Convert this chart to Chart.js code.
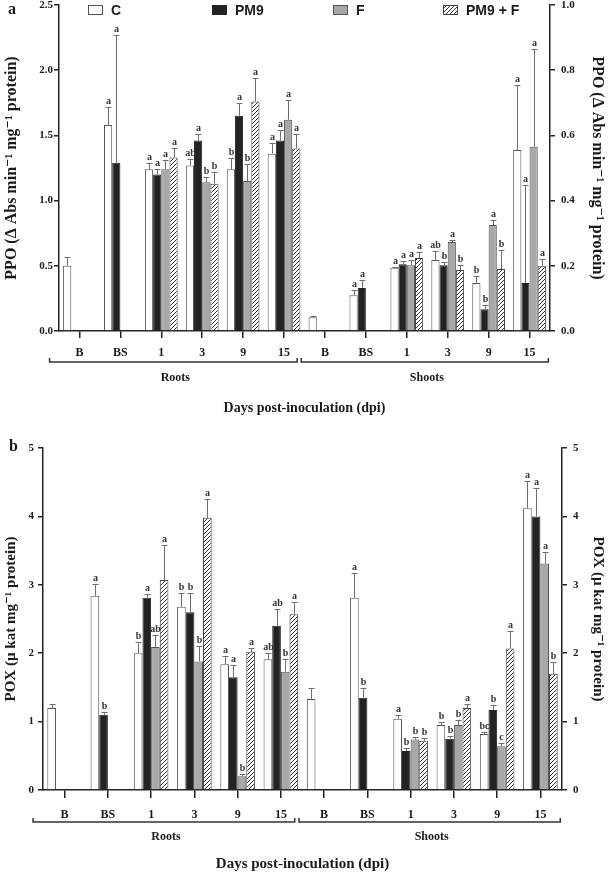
<!DOCTYPE html>
<html>
<head>
<meta charset="utf-8">
<title>PPO and POX activity</title>
<script src="https://cdn.jsdelivr.net/npm/chart.js@4.4.0/dist/chart.umd.min.js"></script>
<style>
  html, body { margin: 0; padding: 0; background: #fff; }
  #wrapA { position: absolute; left: 0; top: 0; width: 609px; height: 420px; }
  #wrapB { position: absolute; left: 0; top: 430px; width: 609px; height: 443px; }
</style>
</head>
<body>
<div id="wrapA"><canvas id="ppoChart"></canvas></div>
<div id="wrapB"><canvas id="poxChart"></canvas></div>
<script>
// categories (same for roots and shoots) and treatments
var categories = ['B', 'BS', '1', '3', '9', '15'];
var treatments = ['C', 'PM9', 'F', 'PM9 + F'];

// panel a - PPO, roots (left axis), rows = C, PM9, F, PM9 + F
var ppoRoots = [
    [0.50, 1.58, 1.24, 1.27, 1.24, 1.36],
    [null, 1.29, 1.20, 1.46, 1.65, 1.46],
    [null, null, 1.24, 1.14, 1.15, 1.62],
    [null, null, 1.33, 1.13, 1.76, 1.40]
];
var ppoRootsErr = [
    [0.07, 0.14, 0.05, 0.05, 0.09, 0.08],
    [null, 0.98, 0.04, 0.05, 0.10, 0.08],
    [null, null, 0.07, 0.04, 0.13, 0.15],
    [null, null, 0.07, 0.09, 0.18, 0.11]
];
var ppoRootsLetters = [
    ['', 'a', 'a', 'ab', 'b', 'a'],
    ['', 'a', 'a', 'a', 'a', 'a'],
    ['', '', 'a', 'b', 'b', 'a'],
    ['', '', 'a', 'b', 'a', 'a']
];

// panel a - PPO, shoots (right axis)
var ppoShoots = [
    [0.042, 0.110, 0.194, 0.218, 0.147, 0.555],
    [null, 0.132, 0.205, 0.202, 0.067, 0.147],
    [null, null, 0.202, 0.273, 0.325, 0.565],
    [null, null, 0.224, 0.187, 0.190, 0.200]
];
var ppoShootsErr = [
    [0.005, 0.016, 0.003, 0.027, 0.021, 0.200],
    [null, 0.025, 0.010, 0.009, 0.013, 0.300],
    [null, null, 0.016, 0.006, 0.015, 0.300],
    [null, null, 0.018, 0.016, 0.060, 0.022]
];
var ppoShootsLetters = [
    ['', 'a', 'a', 'ab', 'b', 'a'],
    ['', 'a', 'a', 'b', 'b', 'a'],
    ['', '', 'a', 'a', 'a', 'a'],
    ['', '', 'a', 'b', 'b', 'a']
];

// panel b - POX, roots
var poxRoots = [
    [1.20, 2.84, 2.00, 2.68, 1.84, 1.91],
    [null, 1.10, 2.81, 2.60, 1.65, 2.40],
    [null, null, 2.09, 1.88, 0.20, 1.73],
    [null, null, 3.07, 3.98, 2.02, 2.57]
];
var poxRootsErr = [
    [0.06, 0.17, 0.16, 0.20, 0.12, 0.10],
    [null, 0.04, 0.05, 0.28, 0.18, 0.25],
    [null, null, 0.18, 0.23, 0.03, 0.18],
    [null, null, 0.51, 0.27, 0.05, 0.18]
];
var poxRootsLetters = [
    ['', 'a', 'b', 'b', 'a', 'ab'],
    ['', 'b', 'a', 'b', 'a', 'ab'],
    ['', '', 'ab', 'b', 'b', 'b'],
    ['', '', 'a', 'a', 'a', 'a']
];

// panel b - POX, shoots
var poxShoots = [
    [1.33, 2.81, 1.04, 0.95, 0.82, 4.12],
    [null, 1.35, 0.57, 0.75, 1.17, 4.00],
    [null, null, 0.74, 0.95, 0.64, 3.31],
    [null, null, 0.72, 1.20, 2.07, 1.70]
];
var poxShootsErr = [
    [0.16, 0.36, 0.06, 0.04, 0.03, 0.40],
    [null, 0.14, 0.04, 0.04, 0.08, 0.42],
    [null, null, 0.04, 0.07, 0.04, 0.17],
    [null, null, 0.04, 0.06, 0.25, 0.17]
];
var poxShootsLetters = [
    ['', 'a', 'a', 'b', 'bc', 'a'],
    ['', 'b', 'b', 'b', 'b', 'a'],
    ['', '', 'b', 'b', 'c', 'a'],
    ['', '', 'b', 'a', 'a', 'b']
];

var SERIF = '"Liberation Serif", "DejaVu Serif", serif';
var SANS = '"Liberation Sans", Arial, sans-serif';
var INK = '#1a1a1a';

// diagonal hatch for PM9 + F
function makeHatch() {
    var c = document.createElement('canvas');
    c.width = 4; c.height = 4;
    var g = c.getContext('2d');
    g.fillStyle = '#ffffff';
    g.fillRect(0, 0, 4, 4);
    g.strokeStyle = '#333333';
    g.lineWidth = 1;
    g.beginPath();
    g.moveTo(0, 4); g.lineTo(4, 0);
    g.moveTo(-1, 1); g.lineTo(1, -1);
    g.moveTo(3, 5); g.lineTo(5, 3);
    g.stroke();
    return g.createPattern(c, 'repeat');
}
var hatch = makeHatch();
var fills = ['#ffffff', '#232323', '#a8a8a8', hatch];
var borders = ['#555555', '#232323', '#555555', '#444444'];

// error bars + significance letters
var errorBarPlugin = {
    id: 'errorBars',
    afterDatasetsDraw: function (chart) {
        var ctx = chart.ctx;
        ctx.save();
        ctx.font = 'bold 10px ' + SERIF;
        ctx.textAlign = 'center';
        ctx.textBaseline = 'bottom';
        chart.data.datasets.forEach(function (ds, i) {
            var meta = chart.getDatasetMeta(i);
            var scale = chart.scales[ds.yAxisID];
            meta.data.forEach(function (bar, j) {
                var v = ds.data[j];
                if (v === null || v === undefined) return;
                var x = Math.round(bar.x) + 0.5;
                var top = Math.round(scale.getPixelForValue(v + (ds.errors[j] || 0))) + 0.5;
                ctx.strokeStyle = '#6e6e6e';
                ctx.lineWidth = 1;
                ctx.beginPath();
                ctx.moveTo(x, bar.y);
                ctx.lineTo(x, top);
                ctx.moveTo(x - 3, top);
                ctx.lineTo(x + 3, top);
                ctx.stroke();
                if (ds.letters[j]) {
                    ctx.fillStyle = '#333333';
                    ctx.fillText(ds.letters[j], x, top - 1);
                }
            });
        });
        ctx.restore();
    }
};

// panel letter, legend and Roots / Shoots brackets
var decorPlugin = {
    id: 'decor',
    afterDraw: function (chart, args, opts) {
        var ctx = chart.ctx;
        var xs = chart.scales.x;
        ctx.save();

        ctx.fillStyle = INK;
        ctx.font = 'bold 16px ' + SERIF;
        ctx.textAlign = 'left';
        ctx.textBaseline = 'middle';
        ctx.fillText(opts.letter, opts.letterX, opts.letterY);

        if (opts.legend) {
            var boxX = [88, 212, 333, 443];
            ctx.font = 'bold 14px ' + SANS;
            treatments.forEach(function (name, t) {
                ctx.fillStyle = fills[t];
                ctx.fillRect(boxX[t], 5, 15, 10);
                ctx.strokeStyle = borders[t];
                ctx.lineWidth = 1;
                ctx.strokeRect(boxX[t] + 0.5, 5.5, 14, 9);
                ctx.fillStyle = INK;
                ctx.fillText(name, boxX[t] + 23, 11);
            });
        }

        var w = xs.getPixelForValue(1) - xs.getPixelForValue(0);
        var spans = [
            ['Roots', xs.getPixelForValue(0) - 0.73 * w, xs.getPixelForValue(5) + 0.32 * w],
            ['Shoots', xs.getPixelForValue(6) - 0.58 * w, xs.getPixelForValue(11) + 0.46 * w]
        ];
        ctx.strokeStyle = '#333333';
        ctx.lineWidth = 1.5;
        ctx.font = 'bold 12px ' + SERIF;
        ctx.textAlign = 'center';
        spans.forEach(function (s) {
            ctx.beginPath();
            ctx.moveTo(s[1], opts.bracketY - 4);
            ctx.lineTo(s[1], opts.bracketY);
            ctx.lineTo(s[2], opts.bracketY);
            ctx.lineTo(s[2], opts.bracketY - 4);
            ctx.stroke();
            ctx.fillStyle = INK;
            ctx.fillText(s[0], (s[1] + s[2]) / 2 + 2, opts.labelY);
        });
        ctx.restore();
    }
};

function valueAxis(position, max, step, decimals, title, width, pad, titleSize) {
    return {
        position: position,
        min: 0,
        max: max,
        border: { display: true, color: '#222222', width: 1.5 },
        grid: { drawOnChartArea: false, drawTicks: true, tickLength: 5, color: '#222222', lineWidth: 1.5 },
        ticks: {
            stepSize: step,
            padding: pad,
            color: INK,
            font: { family: SERIF, size: 11, weight: 'bold' },
            callback: function (v) { return v.toFixed(decimals); }
        },
        title: {
            display: true,
            text: title,
            color: INK,
            padding: { top: 2, bottom: 2 },
            font: { family: SERIF, size: titleSize, weight: 'bold' }
        },
        afterFit: function (s) {
            s.width = width;
            // let the layout padding alone decide where the plot starts
            s.paddingTop = 0;
            s.paddingBottom = 0;
        }
    };
}

function buildChart(canvasId, cfg) {
    var blanks = categories.map(function () { return null; });
    var blankText = categories.map(function () { return ''; });
    var parts = [
        { axis: 'y', first: true, vals: cfg.roots, errs: cfg.rootsErr, lets: cfg.rootsLetters },
        { axis: 'y1', first: false, vals: cfg.shoots, errs: cfg.shootsErr, lets: cfg.shootsLetters }
    ];
    var datasets = [];
    parts.forEach(function (p) {
        treatments.forEach(function (name, t) {
            datasets.push({
                label: name,
                yAxisID: p.axis,
                stack: 'g' + t,
                data: p.first ? p.vals[t].concat(blanks) : blanks.concat(p.vals[t]),
                errors: p.first ? p.errs[t].concat(blanks) : blanks.concat(p.errs[t]),
                letters: p.first ? p.lets[t].concat(blankText) : blankText.concat(p.lets[t]),
                backgroundColor: fills[t],
                borderColor: borders[t],
                borderWidth: 1,
                barPercentage: 1.0,
                categoryPercentage: 0.8
            });
        });
    });

    return new Chart(document.getElementById(canvasId).getContext('2d'), {
        type: 'bar',
        data: { labels: categories.concat(categories), datasets: datasets },
        plugins: [errorBarPlugin, decorPlugin],
        options: {
            responsive: true,
            maintainAspectRatio: false,
            animation: false,
            layout: { padding: { top: cfg.top, left: 0, right: 0, bottom: 0 } },
            scales: {
                x: {
                    offset: true,
                    border: { display: true, color: '#222222', width: 1.5 },
                    grid: { offset: false, drawOnChartArea: false, drawTicks: true, tickLength: cfg.xTick, color: '#222222', lineWidth: 1.5 },
                    ticks: {
                        color: INK,
                        padding: cfg.xPad,
                        autoSkip: false,
                        maxRotation: 0,
                        font: { family: SERIF, size: 12, weight: 'bold' }
                    },
                    title: {
                        display: true,
                        text: 'Days post-inoculation (dpi)',
                        color: INK,
                        padding: { top: 0, bottom: cfg.xTitlePad },
                        font: { family: SERIF, size: cfg.xTitleSize, weight: 'bold' }
                    },
                    afterFit: function (s) { s.height = cfg.xHeight; }
                },
                y: cfg.left,
                y1: cfg.right
            },
            plugins: {
                legend: { display: false },
                tooltip: { enabled: false },
                decor: cfg.decor
            }
        }
    });
}

document.addEventListener('DOMContentLoaded', function () {
    var ppoTitle = 'PPO (\u0394 Abs min\u207B\u00B9 mg\u207B\u00B9 protein)';
    var poxTitle = 'POX (\u00B5 kat mg\u207B\u00B9 protein)';

    buildChart('ppoChart', {
        roots: ppoRoots, rootsErr: ppoRootsErr, rootsLetters: ppoRootsLetters,
        shoots: ppoShoots, shootsErr: ppoShootsErr, shootsLetters: ppoShootsLetters,
        top: 5, xHeight: 89, xTick: 7, xPad: 8, xTitleSize: 14, xTitlePad: 3,
        left: valueAxis('left', 2.5, 0.5, 1, ppoTitle, 59, 1, 16),
        right: valueAxis('right', 1.0, 0.2, 1, ppoTitle, 59, 6, 16),
        decor: { letter: 'a', letterX: 8, letterY: 10, legend: true, bracketY: 362, labelY: 378 }
    });

    buildChart('poxChart', {
        roots: poxRoots, rootsErr: poxRootsErr, rootsLetters: poxRootsLetters,
        shoots: poxShoots, shootsErr: poxShootsErr, shootsLetters: poxShootsLetters,
        top: 18, xHeight: 83, xTick: 8, xPad: 10, xTitleSize: 15, xTitlePad: 0,
        left: valueAxis('left', 5, 1, 0, poxTitle, 43, 4, 15),
        right: valueAxis('right', 5, 1, 0, poxTitle, 47, 6, 15),
        decor: { letter: 'b', letterX: 9, letterY: 17, legend: false, bracketY: 392, labelY: 407 }
    });
});
</script>
</body>
</html>
